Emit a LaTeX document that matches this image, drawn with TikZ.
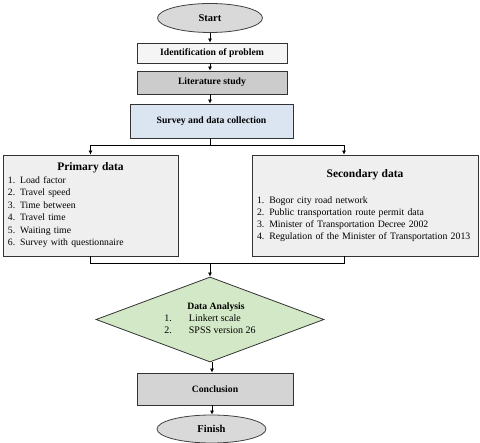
\documentclass[tikz,border=0pt]{standalone}
\usepackage{fontspec}
\setmainfont{Liberation Serif}
\usetikzlibrary{shapes.geometric,arrows.meta}
\definecolor{termgray}{HTML}{D9D9D9}
\definecolor{litgray}{HTML}{CCCCCC}
\definecolor{surveyblue}{HTML}{DBE5F1}
\definecolor{datagray}{HTML}{EFEFEF}
\definecolor{anagreen}{HTML}{D3E8C6}
\begin{document}
\begin{tikzpicture}[x=1pt,y=-1pt, every node/.style={font=\fontsize{9}{11}\selectfont}]
  \tikzstyle{term}=[draw=black!75,ellipse,fill=termgray,line width=0.8pt,inner sep=0pt,font=\fontsize{10.5}{12}\selectfont\bfseries]
  \tikzstyle{proc}=[draw=black!80,line width=0.8pt,inner sep=0pt,align=center,font=\fontsize{9.7}{11}\selectfont\bfseries]
  \tikzstyle{databox}=[draw=black!80,fill=datagray,line width=0.8pt,inner sep=5pt,font=\fontsize{9.7}{12.5}\selectfont]
  \tikzstyle{flow}=[-{Latex[length=4pt,width=4pt]},line width=0.7pt]
  \useasboundingbox (0,0) rectangle (480,443);
  % top chain
  \node[term,minimum width=105pt,minimum height=29pt] (start) at (210,18) {Start};
  \node[proc,fill=black!4,minimum width=150pt,minimum height=20pt] (ident) at (212,53) {Identification of problem};
  \node[proc,fill=litgray,minimum width=150pt,minimum height=23pt] (lit) at (212,82.5) {Literature study};
  \node[proc,fill=surveyblue,minimum width=163pt,minimum height=34pt] (survey) at (211.5,121) {Survey and data collection};
  \draw[flow] (start.south) -- (start.south |- ident.north);
  \draw[flow] (start.south |- ident.south) -- (start.south |- lit.north);
  \draw[flow] (start.south |- lit.south) -- (start.south |- survey.north);
  % data boxes
  \node[databox,minimum width=175pt,minimum height=101pt,text width=165pt] (prim) at (90.5,205.5)
    {{\centering\fontsize{11.5}{13}\selectfont\bfseries Primary data\par}\raggedright
     1. Load factor\\2. Travel speed\\3. Time between\\4. Travel time\\5. Waiting time\\6. Survey with questionnaire};
  \node[databox,minimum width=226pt,minimum height=101pt,text width=216pt,font=\fontsize{9.8}{12}\selectfont] (sec) at (365,205.5)
    {{\centering\fontsize{11.5}{13}\selectfont\bfseries Secondary data\par}\vspace{14pt}\raggedright
     1. Bogor city road network\\2. Public transportation route permit data\\3. Minister of Transportation Decree 2002\\4. Regulation of the Minister of Transportation 2013};
  \coordinate (split) at (210,145);
  \coordinate (join) at (210,263);
  \draw[line width=0.7pt] (start.south |- survey.south) -- (split);
  \draw[flow] (split) -| (prim.north);
  \draw[flow] (split) -| ([xshift=-21pt]sec.north);
  \draw[line width=0.7pt] (prim.south) |- (join);
  \draw[line width=0.7pt] ([xshift=-21pt]sec.south) |- (join);
  % analysis and end
  \node[diamond,aspect=2.68,draw=black!80,fill=anagreen,line width=0.8pt,inner sep=0pt,minimum width=228pt,minimum height=85pt,
        font=\fontsize{10}{12}\selectfont] (anal) at (210,319.5)
    {\begin{tabular}{@{}l@{\hspace{17pt}}l@{}}
      \multicolumn{2}{@{\hspace{12pt}}c@{}}{\fontsize{9.7}{12}\selectfont\bfseries Data Analysis}\\
      1.&Linkert scale\\
      2.&SPSS version 26\end{tabular}};
  \node[proc,fill=litgray!85,minimum width=156pt,minimum height=32pt] (concl) at (215,389) {Conclusion};
  \node[term,minimum width=109pt,minimum height=28pt] (finish) at (211.5,429) {Finish};
  \draw[flow] (join) -- (anal.north);
  \draw[flow] ([xshift=2pt]anal.south) -- ([xshift=2pt]anal.south |- concl.north);
  \draw[flow] ([xshift=2pt]anal.south |- concl.south) -- ([xshift=2pt]anal.south |- finish.north);
\end{tikzpicture}
\end{document}
